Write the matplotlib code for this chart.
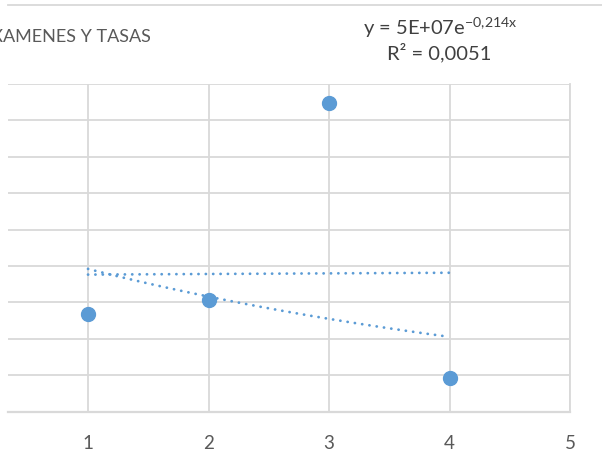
import numpy as np
import matplotlib.pyplot as plt
from matplotlib.lines import Line2D

plt.rcParams['font.family'] = ['Lato', 'DejaVu Sans']
plt.rcParams['mathtext.fontset'] = 'custom'
plt.rcParams['mathtext.rm'] = 'Lato'

# data
x_vals = [1, 2, 3, 4]
y_vals = [2.68e7, 3.06e7, 8.48e7, 0.93e7]
x_ticks = [1, 2, 3, 4, 5]
title = "EXAMENES Y TASAS"
eq_text = "y = 5E+07e$\\mathregular{^{-0{,}214x}}$"
r2_text = "R² = 0,0051"

blue = '#5B9BD5'
grid_c = '#D9D9D9'
text_c = '#595959'

fig = plt.figure(figsize=(6.02, 4.70), dpi=100)
W, H = 602, 470
ax = fig.add_axes([8 / W, (H - 411.5) / H, (570 - 8) / W, (411.5 - 84) / H])

ax.set_xlim(0.336, 5)
ax.set_ylim(0, 9e7)
ax.set_xticks(x_ticks)
ax.set_yticks(np.arange(0, 9.01e7, 1e7))
ax.grid(True, color=grid_c, linewidth=1.3)
ax.set_axisbelow(True)
for s in ['top', 'left']:
    ax.spines[s].set_visible(False)
ax.spines['bottom'].set_color(grid_c)
ax.spines['bottom'].set_linewidth(1.6)
ax.spines['right'].set_color(grid_c)
ax.spines['right'].set_linewidth(1.3)
ax.tick_params(axis='both', length=0)
ax.tick_params(axis='x', pad=17, labelsize=13.5, labelcolor=text_c)
ax.set_yticklabels([])

# trendlines
xs = np.array(x_vals, dtype=float)
ys = np.array(y_vals)
xl = np.linspace(1, 4, 100)
lin = np.polyfit(xs, ys, 1)
ex = np.polyfit(xs, np.log(ys), 1)
dots = dict(color=blue, linewidth=2.0, linestyle=(0, (0.05, 2.6)),
            dash_capstyle='round')
ax.plot(xl, np.polyval(lin, xl), **dots)
ax.plot(xl, np.exp(np.polyval(ex, xl)), **dots)

ax.plot(x_vals, y_vals, 'o', color=blue, markersize=10, zorder=5)

# labels
fig.text(151 / W, 1 - 41.5 / H, title, ha='right', va='baseline',
         fontsize=13, color=text_c)
fig.text(440 / W, 1 - 35 / H, eq_text, ha='center', va='baseline',
         fontsize=14.5, color='#404040')
fig.text(439 / W, 1 - 59 / H, r2_text, ha='center', va='baseline',
         fontsize=14.5, color='#404040')

# border line at top of the screenshot
fig.add_artist(Line2D([8 / W, 1], [1 - 4.5 / H, 1 - 4.5 / H],
                      color=grid_c, linewidth=1.3))

fig.savefig('out.png', dpi=100)
